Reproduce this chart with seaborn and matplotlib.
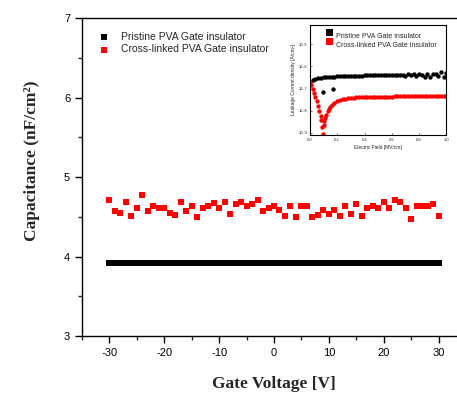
import numpy as np
import pandas as pd
import seaborn as sns
import matplotlib.pyplot as plt
from matplotlib.ticker import MultipleLocator, FixedLocator, FixedFormatter

# Main plot: capacitance vs gate voltage
gate_v_fine = np.arange(-30, 30.5, 0.5)   # pristine sweep (0.5 V step)
pristine_cap = [3.92] * len(gate_v_fine)   # flat at ~3.92 nF/cm2

gate_v = np.arange(-30, 31, 1)             # cross-linked sweep (1 V step)
crosslinked_cap = [4.71, 4.57, 4.55, 4.69, 4.51, 4.61, 4.77, 4.57, 4.64, 4.61,
                   4.61, 4.55, 4.52, 4.69, 4.57, 4.64, 4.50, 4.61, 4.64, 4.67,
                   4.61, 4.69, 4.54, 4.66, 4.69, 4.64, 4.66, 4.71, 4.57, 4.61,
                   4.64, 4.58, 4.51, 4.64, 4.50, 4.64, 4.64, 4.50, 4.52, 4.58,
                   4.54, 4.58, 4.51, 4.64, 4.54, 4.66, 4.51, 4.61, 4.64, 4.61,
                   4.69, 4.61, 4.71, 4.69, 4.61, 4.47, 4.64, 4.64, 4.64, 4.66,
                   4.51]

# Inset: leakage current density vs electric field
field_black = [0.00, 0.02, 0.04, 0.06, 0.08, 0.10, 0.12, 0.14, 0.16, 0.18,
               0.20, 0.22, 0.24, 0.26, 0.28, 0.30, 0.32, 0.34, 0.36, 0.38,
               0.40, 0.42, 0.44, 0.46, 0.48, 0.50, 0.52, 0.54, 0.56, 0.58,
               0.60, 0.62, 0.64, 0.66, 0.68, 0.70, 0.72, 0.74, 0.76, 0.78,
               0.80, 0.82, 0.84, 0.86, 0.88, 0.90, 0.92, 0.94, 0.96, 0.98,
               1.00, 0.097, 0.17]
leak_black = [2.0e-7, 2.4e-7, 2.7e-7, 2.9e-7, 3.1e-7, 3.2e-7, 3.3e-7, 3.4e-7, 3.5e-7, 3.5e-7,
              3.6e-7, 3.6e-7, 3.7e-7, 3.7e-7, 3.8e-7, 3.8e-7, 3.8e-7, 3.9e-7, 3.9e-7, 3.9e-7,
              4.0e-7, 4.0e-7, 4.0e-7, 4.0e-7, 4.1e-7, 4.1e-7, 4.1e-7, 4.1e-7, 4.1e-7, 4.2e-7,
              4.2e-7, 4.1e-7, 4.2e-7, 4.3e-7, 4.2e-7, 3.6e-7, 4.4e-7, 4.0e-7, 4.5e-7, 3.8e-7,
              4.6e-7, 4.2e-7, 3.5e-7, 4.7e-7, 3.3e-7, 4.4e-7, 4.8e-7, 3.9e-7, 5.6e-7, 3.4e-7,
              5.2e-7, 7.0e-8, 1.0e-7]

field_red = [0.00, 0.01, 0.02, 0.03, 0.04, 0.05, 0.06, 0.07, 0.08, 0.085,
             0.09, 0.095, 0.10, 0.105, 0.11, 0.12, 0.13, 0.14, 0.15, 0.16,
             0.18, 0.20, 0.22, 0.24, 0.26, 0.28, 0.30, 0.32, 0.34, 0.36,
             0.38, 0.40, 0.42, 0.44, 0.46, 0.48, 0.50, 0.52, 0.54, 0.56,
             0.58, 0.60, 0.62, 0.64, 0.66, 0.68, 0.70, 0.72, 0.74, 0.76,
             0.78, 0.80, 0.82, 0.84, 0.86, 0.88, 0.90, 0.92, 0.94, 0.96,
             0.98, 1.00]
leak_red = [2.0e-7, 1.4e-7, 1.0e-7, 6.5e-8, 4.2e-8, 2.7e-8, 1.7e-8, 1.0e-8, 5.5e-9, 4.0e-9,
            1.8e-9, 9.0e-10, 2.2e-9, 3.5e-9, 4.5e-9, 6.5e-9, 9.5e-9, 1.25e-8, 1.5e-8, 1.8e-8,
            2.3e-8, 2.7e-8, 3.0e-8, 3.3e-8, 3.5e-8, 3.7e-8, 3.8e-8, 3.9e-8, 4.0e-8, 4.05e-8,
            4.1e-8, 4.15e-8, 4.2e-8, 4.2e-8, 4.25e-8, 4.3e-8, 4.3e-8, 4.35e-8, 4.35e-8, 4.4e-8,
            4.4e-8, 4.4e-8, 4.45e-8, 4.45e-8, 4.45e-8, 4.5e-8, 4.5e-8, 4.5e-8, 4.5e-8, 4.55e-8,
            4.55e-8, 4.55e-8, 4.55e-8, 4.6e-8, 4.6e-8, 4.6e-8, 4.6e-8, 4.6e-8, 4.65e-8, 4.65e-8,
            4.65e-8, 4.65e-8]

sns.set_style("ticks")
plt.rcParams['font.family'] = ['Liberation Sans', 'DejaVu Sans']
plt.rcParams['axes.unicode_minus'] = False

fig = plt.figure(figsize=(4.57, 3.96), dpi=100)
ax = fig.add_axes([0.1794, 0.1515, 0.8403, 0.803])

sns.scatterplot(x=gate_v_fine, y=pristine_cap, ax=ax, marker='s', color='black',
                s=22, linewidth=0, label='Pristine PVA Gate insulator')
sns.scatterplot(x=gate_v, y=crosslinked_cap, ax=ax, marker='s', color='red',
                s=24, linewidth=0, label='Cross-linked PVA Gate insulator')

ax.set_xlim(-35, 35)
ax.set_ylim(3, 7)
ax.xaxis.set_major_locator(MultipleLocator(10))
ax.xaxis.set_minor_locator(MultipleLocator(5))
ax.yaxis.set_major_locator(MultipleLocator(1))
ax.yaxis.set_minor_locator(MultipleLocator(0.5))
ax.tick_params(which='major', direction='out', length=5, width=1, labelsize=8, colors='black')
ax.tick_params(which='minor', direction='out', length=3, width=1)
for sp in ax.spines.values():
    sp.set_linewidth(1)
    sp.set_color('black')

ax.set_xlabel('Gate Voltage [V]', family='Liberation Serif', fontweight='bold', fontsize=12.5, labelpad=13)
ax.set_ylabel('Capacitance (nF/cm²)', family='Liberation Serif', fontweight='bold', fontsize=12.5)
ax.yaxis.set_label_coords(-0.11, 0.55)

ax.legend(loc='upper left', bbox_to_anchor=(0.02, 0.97), frameon=False, fontsize=7.5,
          handletextpad=0.6, labelspacing=0.25, markerscale=0.85, borderaxespad=0)

# Inset
ins = fig.add_axes([0.678, 0.659, 0.299, 0.278])
sns.scatterplot(x=field_black, y=leak_black, ax=ins, marker='o', color='black',
                s=10, linewidth=0, label='Pristine PVA Gate insulator')
sns.scatterplot(x=field_red, y=leak_red, ax=ins, marker='o', color='red',
                s=10, linewidth=0, label='Cross-linked PVA Gate insulator')
ins.set_yscale('log')
ins.set_xlim(0, 1.0)
ins.set_ylim(8e-10, 7.5e-5)
ins.xaxis.set_major_locator(MultipleLocator(0.2))
ins.xaxis.set_major_formatter(plt.FuncFormatter(lambda v, p: f'{v:.1f}'))
ins.yaxis.set_major_locator(FixedLocator([1e-9, 1e-8, 1e-7, 1e-6, 1e-5]))
ins.yaxis.set_major_formatter(FixedFormatter(['1E-9', '1E-8', '1E-7', '1E-6', '1E-5']))
ins.yaxis.set_minor_locator(FixedLocator([]))
ins.tick_params(which='major', direction='in', length=1.5, width=0.5, labelsize=3, pad=2)
for sp in ins.spines.values():
    sp.set_linewidth(0.8)
    sp.set_color('black')
ins.set_xlabel('Electric Field [MV/cm]', fontsize=3.5, labelpad=2)
ins.set_ylabel('Leakage Current density [A/cm²]', fontsize=3.5, labelpad=2)
leg = ins.legend(loc='upper left', bbox_to_anchor=(0.05, 0.95), frameon=False, fontsize=5,
                 handletextpad=0.4, labelspacing=0.2, markerscale=1.6, borderaxespad=0)
for h in leg.legend_handles:
    h.set_paths([plt.matplotlib.markers.MarkerStyle('s').get_path()])

fig.savefig('out.png', dpi=100)
